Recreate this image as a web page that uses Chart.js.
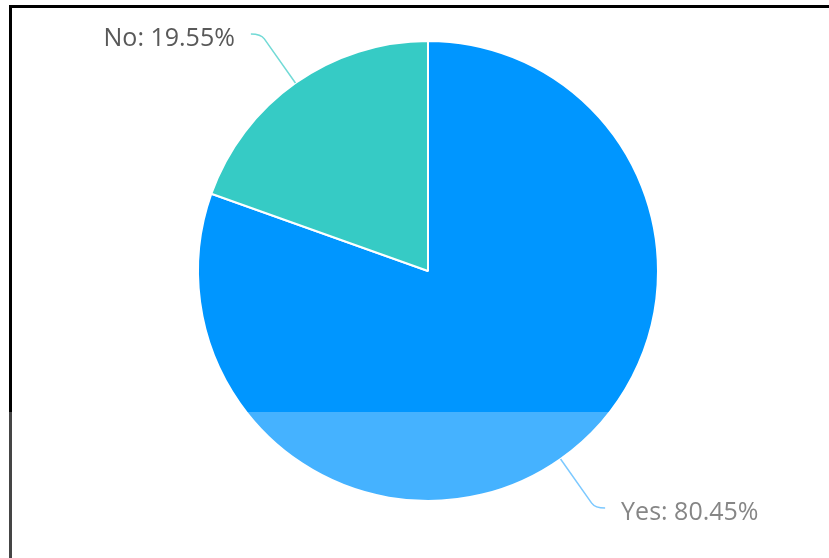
<!DOCTYPE html>
<html>
<head>
<meta charset="utf-8">
<script src="https://cdn.jsdelivr.net/npm/chart.js@4"></script>
<style>
  html, body { margin: 0; padding: 0; background: #fff; }
  #wrap { position: relative; width: 829px; height: 558px; overflow: hidden; }
  #frame {
    position: absolute; left: 9px; top: 5px; right: -10px; bottom: -10px;
    border-top: 3px solid #000; border-left: 3px solid #000;
    pointer-events: none;
  }
  #band {
    position: absolute; left: 0; right: 0; top: 412px; bottom: 0;
    background: rgba(255,255,255,0.27);
    pointer-events: none;
  }
</style>
</head>
<body>
<div id="wrap">
  <canvas id="pieChart" width="829" height="558"></canvas>
  <div id="frame"></div>
  <div id="band"></div>
</div>
<script>
const labels = ['Yes', 'No'];
const values = [80.45, 19.55];
const colors = ['#0096ff', '#36cbc5'];

// leader lines + labels drawn outside the slices
const outsideLabels = {
  id: 'outsideLabels',
  afterDatasetsDraw(chart) {
    const ctx = chart.ctx;
    const meta = chart.getDatasetMeta(0);
    const total = values.reduce((a, b) => a + b, 0);
    meta.data.forEach((arc, i) => {
      const p = arc.getProps(['x', 'y', 'startAngle', 'endAngle', 'outerRadius']);
      const mid = (p.startAngle + p.endAngle) / 2;
      const cx = Math.cos(mid), cy = Math.sin(mid);
      const x0 = p.x + cx * p.outerRadius, y0 = p.y + cy * p.outerRadius;
      const x1 = p.x + cx * (p.outerRadius + 60), y1 = p.y + cy * (p.outerRadius + 60);
      const side = cx < 0 ? -1 : 1;
      const x2 = x1 + side * 10, y2 = y1;

      ctx.save();
      ctx.strokeStyle = colors[i];
      ctx.globalAlpha = 0.7;
      ctx.lineWidth = 1.5;
      ctx.beginPath();
      ctx.moveTo(x0, y0);
      ctx.lineTo(x1 - side * 6 * Math.abs(cx), y1 - 6 * cy);
      ctx.quadraticCurveTo(x1, y1, x2, y2);
      ctx.stroke();
      ctx.globalAlpha = 1;

      const pct = (values[i] / total * 100).toFixed(2);
      ctx.fillStyle = '#595959';
      ctx.font = '25px "Open Sans", sans-serif';
      ctx.textBaseline = 'middle';
      ctx.textAlign = side < 0 ? 'right' : 'left';
      ctx.fillText(labels[i] + ': ' + pct + '%', x2 + side * 16, y2 + 5);
      ctx.restore();
    });
  }
};

new Chart(document.getElementById('pieChart'), {
  type: 'pie',
  data: {
    labels: labels,
    datasets: [{
      data: values,
      backgroundColor: colors,
      borderColor: '#ffffff',
      borderWidth: 2,
      hoverOffset: 0
    }]
  },
  options: {
    responsive: false,
    animation: false,
    layout: { padding: { left: 197, right: 170, top: 40, bottom: 56 } },
    plugins: {
      legend: { display: false },
      tooltip: { enabled: false }
    }
  },
  plugins: [outsideLabels]
});
</script>
</body>
</html>
